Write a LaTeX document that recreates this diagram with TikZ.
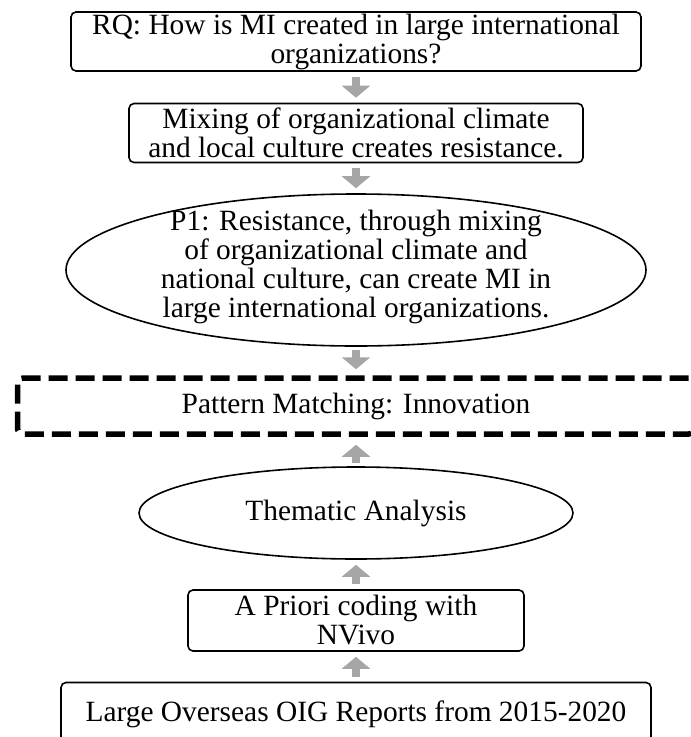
\documentclass[tikz,border=0pt]{standalone}
\usepackage{fontspec}
\setmainfont{Liberation Serif}
\usetikzlibrary{arrows.meta,shapes.geometric}

\begin{document}
\begin{tikzpicture}[x=1pt,y=-1pt,
  font=\fontsize{29.4}{29}\selectfont,
  box/.style={draw,line width=1.6pt,rounded corners=5pt,align=center,inner sep=0pt},
  oval/.style={draw,ellipse,line width=1.6pt,inner sep=0pt},
  dashbox/.style={draw,line width=5.5pt,dash pattern=on 19pt off 8pt,rounded corners=6pt,align=center,inner sep=0pt},
  flow/.style={gray!70,line width=8.5pt,-{Triangle[width=28pt,length=12pt]},shorten <=5pt,shorten >=5pt}]
  % page frame
  \useasboundingbox (0,0) rectangle (691,737);
  \clip (0,0) rectangle (691,737);

  % research question and proposition
  \node[box,minimum width=570pt,minimum height=59pt] (rq) at (356,41.5) {RQ: How is MI created in large international\\organizations?};
  \node[box,minimum width=454pt,minimum height=59pt] (mix) at (356,133) {Mixing of organizational climate\\and local culture creates resistance.};
  \node[oval,minimum width=580pt,minimum height=152pt] (p1) at (356,270) {};
  \node[align=center,inner sep=0pt] (p1text) at ([yshift=3pt]p1.center) {P1: Resistance, through mixing\\of organizational climate and\\national culture, can create MI in\\large international organizations.};

  % pattern matching
  \node[dashbox,minimum width=677pt,minimum height=56pt] (pm) at (356,406) {Pattern Matching: Innovation};

  % data and analysis
  \node[oval,minimum width=434pt,minimum height=92pt] (ta) at (356,513) {Thematic Analysis};
  \node[box,minimum width=336pt,minimum height=61pt] (nv) at (356,620.5) {A Priori coding with\\NVivo};
  \node[box,minimum width=590pt,minimum height=64pt] (oig) at (356,714.5) {Large Overseas OIG Reports from 2015-2020};

  % grey arrows
  \draw[flow] (rq) -- (mix);
  \draw[flow] (mix) -- (p1);
  \draw[flow,shorten <=3pt,shorten >=6pt] (p1) -- (pm);
  \draw[flow,shorten <=3pt,shorten >=8pt] (ta) -- (pm);
  \draw[flow] (nv) -- (ta);
  \draw[flow] (oig) -- (nv);
\end{tikzpicture}
\end{document}
